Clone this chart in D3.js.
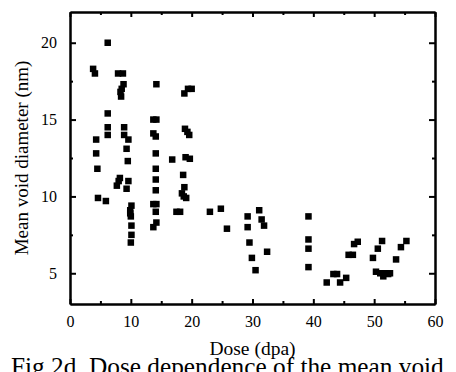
<!DOCTYPE html>
<html>
<head>
<meta charset="utf-8">
<script src="https://cdn.jsdelivr.net/npm/d3@7"></script>
<style>
  body { margin: 0; background: #fff; }
  svg { display: block; font-family: "Liberation Serif", "Times New Roman", serif; }
</style>
</head>
<body>
<script>
// dose (dpa) and mean void diameter (nm)
const doses = [
  3.8, 4.1, 4.3, 4.3, 4.5, 4.6,
  6.2, 6.2, 6.2, 6.2, 5.9,
  7.9, 8.7, 8.8, 8.5, 8.3, 8.4,
  8.9, 8.9, 9.6, 9.3, 9.5, 9.6, 9.3,
  8.2, 8.0, 7.7,
  10.1, 9.9, 9.9, 10.0, 10.1, 10.1, 10.0,
  14.2, 13.7, 14.2, 13.7, 14.1, 14.1, 14.1, 14.1, 14.1, 13.7, 14.2, 14.1, 14.2, 13.7,
  16.8, 17.5, 18.1,
  18.8, 19.4, 20.0, 18.9, 19.3, 19.6, 19.0, 19.7, 18.6, 18.8, 18.4, 18.7, 19.1,
  23.0, 24.8, 25.8,
  29.2, 29.2, 29.5, 29.9, 30.5, 31.1, 31.5, 31.9, 32.4,
  39.2, 39.2, 39.2, 39.2,
  42.2, 43.3, 43.9, 44.4, 45.4, 45.8, 46.5, 46.7, 47.3,
  49.8, 50.3, 50.6, 51.3, 51.0, 51.5, 51.8, 52.3, 52.6, 53.6, 54.4, 55.3
];
const diameters = [
  18.3, 18.0, 13.7, 12.8, 11.8, 9.9,
  20.0, 15.4, 14.5, 14.0, 9.7,
  18.0, 18.0, 17.3, 17.0, 16.8, 16.5,
  14.5, 14.0, 13.7, 13.1, 12.3, 11.0, 10.5,
  11.2, 11.0, 10.7,
  9.4, 9.1, 8.9, 8.7, 8.1, 7.5, 7.0,
  17.3, 15.0, 15.0, 14.1, 13.9, 12.8, 11.8, 11.1, 10.4, 9.5, 9.5, 9.0, 8.3, 8.0,
  12.4, 9.0, 9.0,
  16.7, 17.0, 17.0, 14.4, 14.2, 14.0, 12.55, 12.45, 11.4, 10.6, 10.2, 10.0, 9.9,
  9.0, 9.2, 7.9,
  8.7, 8.0, 7.0, 6.0, 5.2, 9.1, 8.5, 8.1, 6.4,
  8.7, 7.2, 6.6, 5.4,
  4.4, 4.95, 4.95, 4.4, 4.7, 6.2, 6.2, 6.9, 7.05,
  6.0, 5.1, 6.6, 7.1, 5.0, 4.8, 5.0, 4.95, 5.0, 5.9, 6.7, 7.1
];
const xTicks = [0, 10, 20, 30, 40, 50, 60];
const xMinorTicks = [5, 15, 25, 35, 45, 55];
const yTicks = [5, 10, 15, 20];
const yMinorTicks = [7.5, 12.5, 17.5];

const width = 456;
const height = 372;
const marginTop = 12;
const marginRight = 21;
const marginBottom = 68;
const marginLeft = 70;

const data = doses.map((d, i) => ({ dose: d, diameter: diameters[i] }));

const x = d3.scaleLinear().domain([0, 60]).range([marginLeft, width - marginRight]);
const y = d3.scaleLinear().domain([3, 22]).range([height - marginBottom, marginTop]);

const svg = d3.select("body").append("svg")
  .attr("width", width)
  .attr("height", height)
  .attr("viewBox", [0, 0, width, height]);

//axes: labels on bottom/left, ticks pointing inward on all four sides
function styleAxis(g) {
  g.attr("font-family", null).attr("font-size", null);
  g.select(".domain").attr("stroke", "#000").attr("stroke-width", 2);
  g.selectAll(".tick line").attr("stroke", "#000").attr("stroke-width", 2);
  g.selectAll(".tick text").attr("font-size", "16px").attr("fill", "#000");
}

svg.append("g")
  .attr("transform", `translate(0,${y.range()[0]})`)
  .call(d3.axisBottom(x).tickValues(xTicks).tickSize(-5).tickPadding(12).tickSizeOuter(0))
  .call(styleAxis);
svg.append("g")
  .attr("transform", `translate(0,${y.range()[0]})`)
  .call(d3.axisBottom(x).tickValues(xMinorTicks).tickSize(-3).tickFormat("").tickSizeOuter(0))
  .call(styleAxis);
svg.append("g")
  .attr("transform", `translate(0,${y.range()[1]})`)
  .call(d3.axisTop(x).tickValues(xTicks).tickSize(-5).tickFormat("").tickSizeOuter(0))
  .call(styleAxis);
svg.append("g")
  .attr("transform", `translate(0,${y.range()[1]})`)
  .call(d3.axisTop(x).tickValues(xMinorTicks).tickSize(-3).tickFormat("").tickSizeOuter(0))
  .call(styleAxis);

svg.append("g")
  .attr("transform", `translate(${x.range()[0]},0)`)
  .call(d3.axisLeft(y).tickValues(yTicks).tickSize(-6).tickPadding(13).tickSizeOuter(0))
  .call(styleAxis);
svg.append("g")
  .attr("transform", `translate(${x.range()[0]},0)`)
  .call(d3.axisLeft(y).tickValues(yMinorTicks).tickSize(-3).tickFormat("").tickSizeOuter(0))
  .call(styleAxis);
svg.append("g")
  .attr("transform", `translate(${x.range()[1]},0)`)
  .call(d3.axisRight(y).tickValues(yTicks).tickSize(-6).tickFormat("").tickSizeOuter(0))
  .call(styleAxis);
svg.append("g")
  .attr("transform", `translate(${x.range()[1]},0)`)
  .call(d3.axisRight(y).tickValues(yMinorTicks).tickSize(-3).tickFormat("").tickSizeOuter(0))
  .call(styleAxis);

// square markers
const s = 6.5;
svg.append("g")
  .attr("fill", "#000")
  .selectAll("rect")
  .data(data)
  .join("rect")
  .attr("x", d => x(d.dose) - s / 2)
  .attr("y", d => y(d.diameter) - s / 2)
  .attr("width", s)
  .attr("height", s);

svg.append("text") //x axis title
  .text("Dose (dpa)")
  .attr("x", (x.range()[0] + x.range()[1]) / 2)
  .attr("y", 355)
  .attr("font-size", "19.5px")
  .attr("text-anchor", "middle");

svg.append("text") //vertical y label
  .text("Mean void diameter (nm)")
  .attr("transform", `translate(28,${(y.range()[0] + y.range()[1]) / 2}) rotate(-90)`)
  .attr("font-size", "19px")
  .attr("text-anchor", "middle");

svg.append("text") //caption, clipped at bottom
  .text("Fig 2d. Dose dependence of the mean void")
  .attr("x", 11)
  .attr("y", 375)
  .attr("font-size", "25.3px");
</script>
</body>
</html>
